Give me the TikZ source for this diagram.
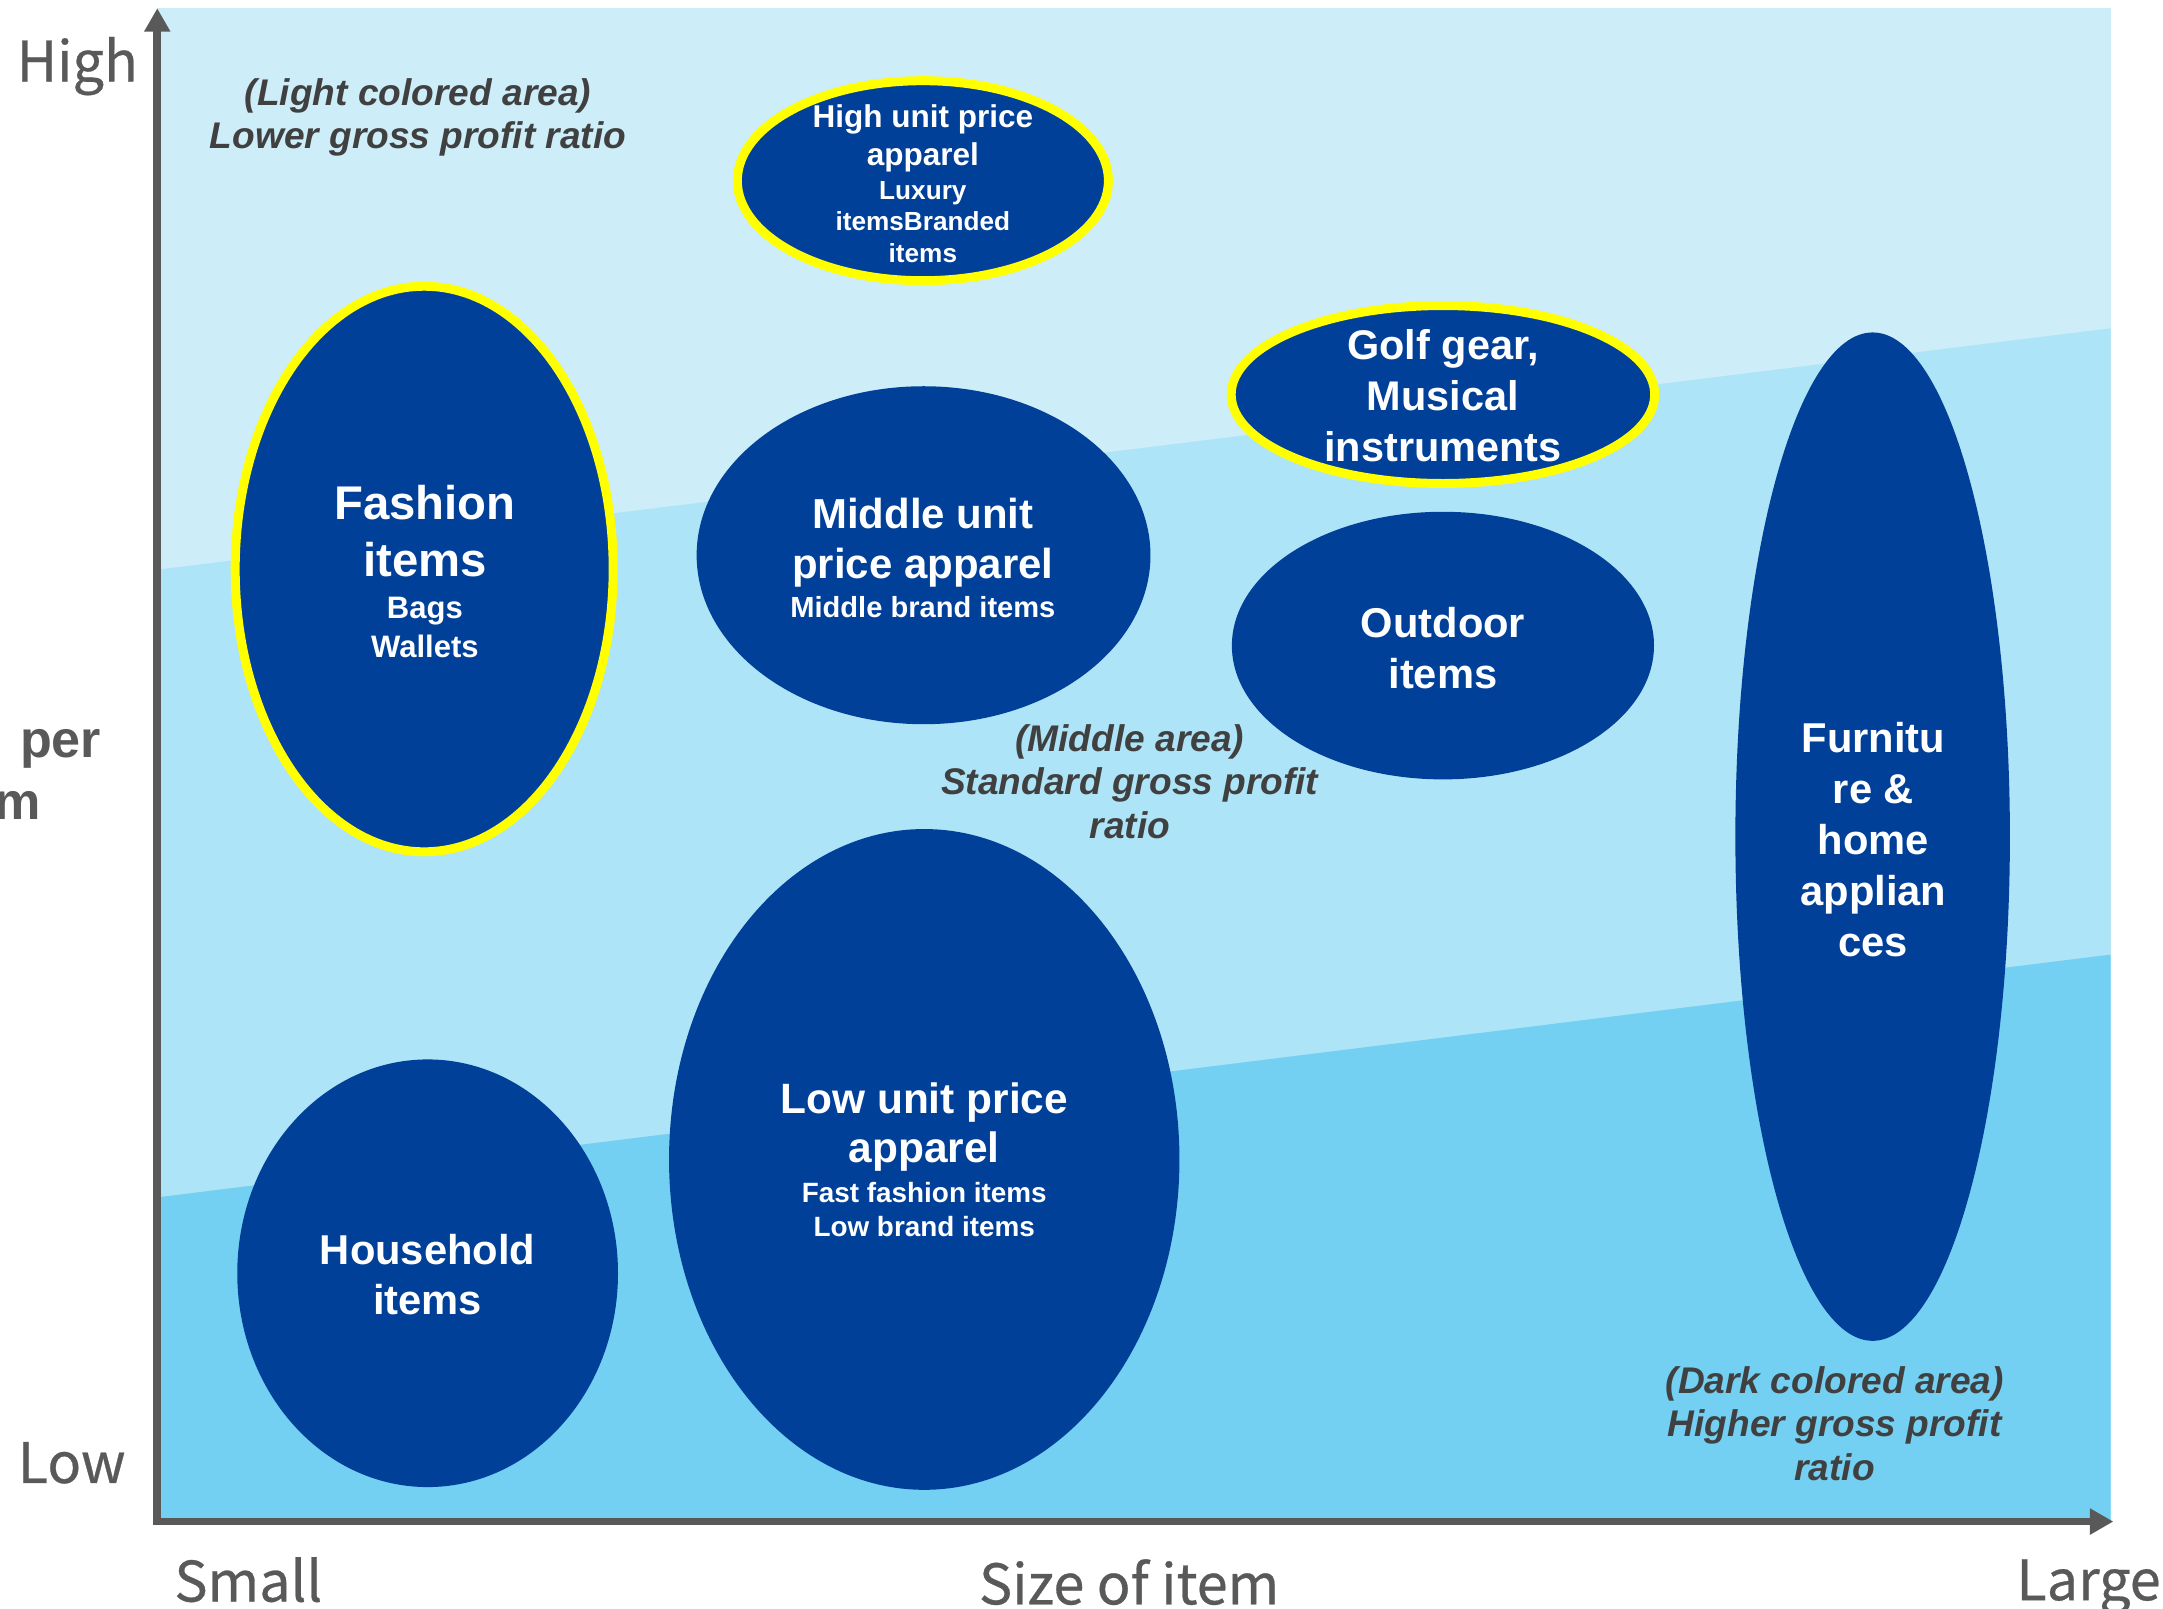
\documentclass[tikz,border=0pt]{standalone}
\usepackage{fontspec}
\setmainfont{Liberation Sans}
\newfontfamily\axisfont[FakeBold=0.5]{Noto Sans CJK JP}
\usetikzlibrary{shapes.geometric,arrows.meta}
\definecolor{navy}{RGB}{0,64,152}
\definecolor{ringyellow}{RGB}{255,255,0}
\definecolor{paleband}{RGB}{205,237,249}
\definecolor{midband}{RGB}{174,228,247}
\definecolor{deepband}{RGB}{115,208,242}
\definecolor{axisgray}{RGB}{89,89,89}
\definecolor{notegray}{RGB}{64,64,64}
\newcommand\subtxt{\fontsize{12}{16}\selectfont}
\newcommand\tinytxt{\fontsize{10.8}{13}\selectfont}

\begin{document}
\begin{tikzpicture}[line width=0.7pt,
  blob/.style={ellipse, fill=navy, inner sep=0pt},
  ring/.style={blob, draw=ringyellow, line width=1.3mm},
  itemtext/.style={text=white, align=center, inner sep=0pt, font=\bfseries\fontsize{17.2}{21}\selectfont},
  note/.style={text=notegray, align=center, inner sep=0pt, font=\bfseries\itshape\fontsize{15.3}{18}\selectfont},
  axislabel/.style={text=axisgray, inner sep=0pt, anchor=base, font=\axisfont\fontsize{23}{28}\selectfont},
  perlabel/.style={text=axisgray, inner sep=0pt, anchor=base east, font=\bfseries\fontsize{21.5}{26}\selectfont},
  axis/.style={draw=axisgray, line width=3.2pt, >={Triangle[length=3.4mm,width=3.6mm]}, <->}]
\useasboundingbox (0,0) rectangle (31.36,23.32);

\coordinate (o) at (2.28,1.26);
\coordinate (ytop) at (2.28,23.2);
\coordinate (xend) at (30.64,1.26);

\fill[paleband] (o) rectangle (30.6,23.2);
\fill[midband] (o) -- (2.28,15.06) -- (30.6,18.56) -- (30.6,1.26) -- cycle;
\fill[deepband] (o) -- (2.28,5.96) -- (30.6,9.48) -- (30.6,1.26) -- cycle;
\draw[axis] (ytop) |- (xend);

\node[axislabel] (high) at (1.12,22.14) {High};
\node[axislabel] (low) at (1.04,1.82) {Low};
\node[axislabel] (small) at (3.6,0.10) {Small};
\node[axislabel] (sizelbl) at (16.37,0.06) {Size of item};
\node[axislabel] (large) at (30.28,0.12) {Large};
\node[perlabel] (per) at (1.48,12.34) {per};
\node[perlabel] (perm) at (0.6,11.44) {m};

\node[note] (lightnote) at (6.06,21.62) {(Light colored area)\\Lower gross profit ratio};
\node[note] (midnote) at (16.38,11.99) {(Middle area)\\Standard gross profit\\ratio};
\node[note] (darknote) at (26.6,2.68) {(Dark colored area)\\Higher gross profit\\ratio};

\node[ring, minimum width=5.38cm, minimum height=2.9cm] (hiapp) at (13.38,20.70) {};
\node[itemtext, font=\bfseries\fontsize{13}{15.6}\selectfont] (hiapp-t) at (13.38,20.66)
  {High unit price\\apparel\\[-1.6pt]{\tinytxt Luxury}\\[-2.8pt]{\tinytxt itemsBranded}\\[-2.4pt]{\tinytxt items}};

\node[ring, minimum width=5.48cm, minimum height=8.2cm] (fashion) at (6.15,15.07) {};
\node[itemtext, font=\bfseries\fontsize{19.5}{23.5}\selectfont] (fashion-t) at (6.16,15.03)
  {Fashion\\items\\[-6.2pt]{\fontsize{12.8}{16}\selectfont Bags}\\[-7.4pt]{\fontsize{12.8}{16}\selectfont Wallets}};

\node[blob, minimum width=6.58cm, minimum height=4.9cm] (midapp) at (13.39,15.27) {};
\node[itemtext, font=\bfseries\fontsize{17.3}{20.6}\selectfont] (midapp-t) at (13.38,15.23)
  {Middle unit\\price apparel\\[-4.5pt]{\subtxt Middle brand items}};

\node[ring, minimum width=6.14cm, minimum height=2.58cm] (golf) at (20.92,17.60) {};
\node[itemtext, font=\bfseries\fontsize{17.1}{21}\selectfont] (golf-t) at (20.92,17.58)
  {Golf gear,\\Musical\\instruments};

\node[blob, minimum width=6.12cm, minimum height=3.88cm] (outdoor) at (20.92,13.96) {};
\node[itemtext] (outdoor-t) at (20.92,13.93) {Outdoor\\items};

\node[blob, minimum width=3.98cm, minimum height=14.62cm] (furniture) at (27.15,11.19) {};
\node[itemtext] (furniture-t) at (27.16,11.15) {Furnitu\\re \&\\home\\applian\\ces};

\node[blob, minimum width=5.52cm, minimum height=6.2cm] (household) at (6.2,4.86) {};
\node[itemtext] (household-t) at (6.2,4.84) {Household\\items};

\node[blob, minimum width=7.4cm, minimum height=9.58cm] (lowapp) at (13.4,6.51) {};
\node[itemtext, font=\bfseries\fontsize{17.5}{20}\selectfont] (lowapp-t) at (13.4,6.5)
  {Low unit price\\apparel\\[-3.5pt]{\fontsize{11.5}{14}\selectfont Fast fashion items}\\[-5.8pt]{\fontsize{11.5}{14}\selectfont Low brand items}};
\end{tikzpicture}
\end{document}
